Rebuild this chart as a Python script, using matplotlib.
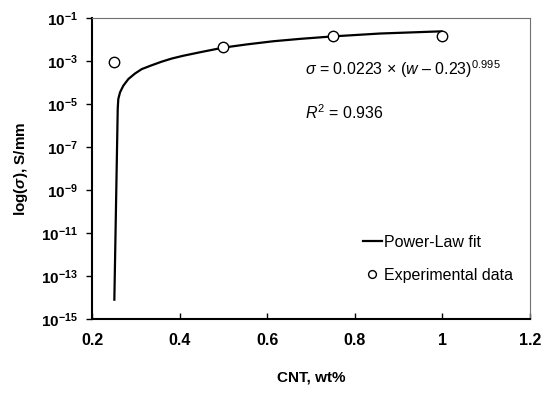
import math
import matplotlib
matplotlib.use("Agg")
import matplotlib.pyplot as plt
from matplotlib.ticker import FixedLocator, FuncFormatter, NullLocator

plt.rcParams["font.family"] = ["Liberation Sans", "DejaVu Sans"]
plt.rcParams["mathtext.fontset"] = "custom"
plt.rcParams["mathtext.rm"] = "Liberation Sans"
plt.rcParams["mathtext.it"] = "Liberation Sans:italic"
plt.rcParams["mathtext.bf"] = "Liberation Sans:bold"
plt.rcParams["mathtext.bfit"] = "Liberation Sans:bold:italic"

# experimental data
cnt_wt = [0.25, 0.5, 0.75, 1.0]
sigma_exp = [9.3e-4, 4.5e-3, 1.4e-2, 1.5e-2]

# power-law fit curve
fit_wt = [0.251, 0.2587, 0.260, 0.264, 0.2715, 0.283, 0.298, 0.3135, 0.336, 0.359,
          0.382, 0.408, 0.4466, 0.500, 0.553, 0.614, 0.675, 0.751, 0.858, 0.998]
fit_sigma = [7.9e-15, 5.9e-6, 1.7e-5, 3.5e-5, 7.1e-5, 1.45e-4, 2.6e-4, 4.2e-4, 6.3e-4, 9.3e-4,
             1.3e-3, 1.75e-3, 2.55e-3, 4.2e-3, 5.9e-3, 8.3e-3, 1.07e-2, 1.4e-2, 1.9e-2, 2.4e-2]

xticks = [0.2, 0.4, 0.6, 0.8, 1.0, 1.2]
xticklabels = ["0.2", "0.4", "0.6", "0.8", "1", "1.2"]
yticks = [1e-15, 1e-13, 1e-11, 1e-9, 1e-7, 1e-5, 1e-3, 1e-1]

fig = plt.figure(figsize=(5.5, 3.94), dpi=100)
ax = fig.add_axes([0.1673, 0.1904, 0.7963, 0.7639])

ax.plot(fit_wt, fit_sigma, color="black", lw=1.6, solid_joinstyle="round",
        label="Power-Law fit")
ax.plot(cnt_wt, sigma_exp, "o", mfc="white", mec="black", mew=1.0, ms=7.5,
        label="Experimental data", zorder=3)

ax.set_yscale("log")
ax.set_xlim(0.2, 1.2)
ax.set_ylim(1e-15, 1e-1)
ax.xaxis.set_major_locator(FixedLocator(xticks))
ax.set_xticklabels(xticklabels, fontweight="bold", fontsize=11.5)
ax.yaxis.set_major_locator(FixedLocator(yticks))
ax.yaxis.set_minor_locator(NullLocator())
ax.yaxis.set_major_formatter(FuncFormatter(
    lambda v, p: r"$\mathbf{10^{%d}}$" % round(math.log10(v))))
for t in ax.get_yticklabels():
    t.set_fontsize(11)

ax.tick_params(axis="x", direction="in", length=4, width=1, pad=10)
ax.tick_params(axis="y", direction="out", length=4, width=1, pad=6)

for s in ["left", "bottom"]:
    ax.spines[s].set_linewidth(1.5)
    ax.spines[s].set_color("black")
for s in ["top", "right"]:
    ax.spines[s].set_linewidth(0.8)
    ax.spines[s].set_color("#707070")

ax.set_xlabel("CNT, wt%", fontweight="bold", fontsize=11, labelpad=16)
ax.set_ylabel(r"log($\boldsymbol{\sigma}$), S/mm", fontweight="bold", fontsize=11, labelpad=8)

ax.text(0.487, 0.83, r"$\it{\sigma}$ = 0.0223 × ($\it{w}$ – 0.23)$^{0.995}$",
        transform=ax.transAxes, fontsize=11.5, va="center")
ax.text(0.487, 0.685, r"$\it{R}^{2}$ = 0.936",
        transform=ax.transAxes, fontsize=11.5, va="center")

ax.legend(loc="center left", bbox_to_anchor=(0.6, 0.2), frameon=False,
          handlelength=1.2, handletextpad=0.15, labelspacing=1.1,
          fontsize=11.5, borderpad=0, markerscale=0.75)

fig.savefig("out.png", dpi=100)
